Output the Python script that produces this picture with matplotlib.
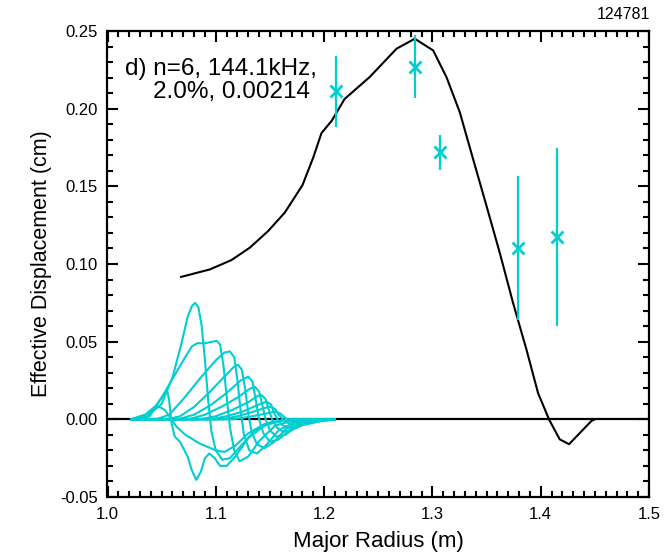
import matplotlib
matplotlib.use("Agg")
import matplotlib.pyplot as plt
from matplotlib.ticker import MultipleLocator

plt.rcParams['font.family'] = ['Liberation Sans', 'DejaVu Sans']

CYAN = '#00CED1'

# Black model curve
model_R = [1.068, 1.0945, 1.1144, 1.1314, 1.1483, 1.1637, 1.180, 1.190, 1.1976, 1.207,
           1.219, 1.242, 1.2669, 1.2837, 1.3007, 1.313, 1.3253, 1.3376, 1.350, 1.3622,
           1.3745, 1.3869, 1.3976, 1.408, 1.4176, 1.4262, 1.4469, 1.450]
model_V = [0.0917, 0.0965, 0.1025, 0.1105, 0.1212, 0.1331, 0.1507, 0.1686, 0.1843, 0.1922,
           0.2063, 0.2203, 0.2386, 0.2450, 0.2375, 0.2203, 0.1977, 0.1675, 0.1373, 0.1072,
           0.0749, 0.0448, 0.0168, -0.0005, -0.0129, -0.0160, -0.0010, 0.0]

# Measured points with error bars
meas_R = [1.2114, 1.2837, 1.3068, 1.3791, 1.4146]
meas_V = [0.2112, 0.2271, 0.1718, 0.1105, 0.1176]
meas_lo = [0.1884, 0.2069, 0.1604, 0.0641, 0.0598]
meas_hi = [0.2339, 0.2472, 0.1830, 0.1567, 0.1746]

# Harmonic curves (R, V)
h0_R = [1.022, 1.035, 1.045, 1.051, 1.055, 1.057, 1.059, 1.062, 1.067, 1.074, 1.078, 1.082,
        1.086, 1.090, 1.094, 1.099, 1.104, 1.110, 1.118, 1.13, 1.145, 1.165, 1.21]
h0_V = [0, 0.003, 0.009, 0.015, 0.019, 0.012, -0.002, -0.011, -0.0145, -0.024, -0.033, -0.039,
        -0.034, -0.025, -0.022, -0.025, -0.030, -0.030, -0.024, -0.012, -0.004, 0, 0]
h1_R = [1.022, 1.035, 1.05, 1.06, 1.068, 1.074, 1.078, 1.081, 1.084, 1.087, 1.090, 1.093,
        1.096, 1.100, 1.106, 1.113, 1.122, 1.135, 1.15, 1.17, 1.21]
h1_V = [0, 0.001, 0.010, 0.027, 0.048, 0.066, 0.073, 0.075, 0.072, 0.060, 0.038, 0.012,
        -0.008, -0.020, -0.026, -0.025, -0.018, -0.008, -0.002, 0, 0]
h2_R = [1.022, 1.039, 1.05, 1.06, 1.07, 1.078, 1.083, 1.09, 1.097, 1.101, 1.104, 1.107,
        1.110, 1.113, 1.117, 1.122, 1.13, 1.14, 1.155, 1.175, 1.21]
h2_V = [0, 0.002, 0.014, 0.026, 0.038, 0.047, 0.049, 0.049, 0.050, 0.0505, 0.048, 0.035,
        0.015, -0.005, -0.020, -0.027, -0.024, -0.014, -0.004, 0, 0]
h3_R = [1.022, 1.045, 1.057, 1.07, 1.085, 1.10, 1.108, 1.113, 1.117, 1.120, 1.123, 1.126,
        1.131, 1.138, 1.146, 1.158, 1.175, 1.21]
h3_V = [0, 0.0, 0.003, 0.013, 0.026, 0.038, 0.043, 0.0437, 0.040, 0.025, 0.005, -0.010,
        -0.020, -0.022, -0.017, -0.007, -0.001, 0]
h4_R = [1.022, 1.055, 1.067, 1.08, 1.095, 1.11, 1.117, 1.1206, 1.124, 1.127, 1.130, 1.133,
        1.138, 1.145, 1.153, 1.165, 1.18, 1.21]
h4_V = [0, 0.0, 0.002, 0.008, 0.018, 0.029, 0.034, 0.0351, 0.032, 0.020, 0.004, -0.008,
        -0.016, -0.0185, -0.015, -0.006, -0.001, 0]
h5_R = [1.022, 1.065, 1.08, 1.095, 1.11, 1.123, 1.130, 1.134, 1.137, 1.140, 1.144, 1.150,
        1.158, 1.168, 1.182, 1.21]
h5_V = [0, 0.0, 0.003, 0.009, 0.017, 0.025, 0.0275, 0.024, 0.012, 0.0, -0.009, -0.0145,
        -0.013, -0.007, -0.0015, 0]
h6_R = [1.022, 1.075, 1.09, 1.105, 1.12, 1.131, 1.136, 1.140, 1.143, 1.146, 1.150, 1.156,
        1.164, 1.174, 1.188, 1.21]
h6_V = [0, 0.0, 0.003, 0.008, 0.014, 0.0195, 0.021, 0.018, 0.009, 0.0, -0.007, -0.0112,
        -0.010, -0.005, -0.001, 0]
h7_R = [1.022, 1.085, 1.10, 1.115, 1.13, 1.138, 1.142, 1.146, 1.149, 1.152, 1.156, 1.162,
        1.170, 1.180, 1.195, 1.21]
h7_V = [0, 0.0, 0.002, 0.006, 0.011, 0.0148, 0.0157, 0.013, 0.006, 0.0, -0.005, -0.008,
        -0.007, -0.0035, -0.0005, 0]
h8_R = [1.022, 1.095, 1.11, 1.125, 1.138, 1.1468, 1.151, 1.154, 1.157, 1.161, 1.167, 1.175,
        1.185, 1.198, 1.21]
h8_V = [0, 0.0, 0.002, 0.005, 0.009, 0.0114, 0.0095, 0.004, 0.0, -0.0035, -0.0055, -0.005,
        -0.0025, -0.0005, 0]
h9_R = [1.022, 1.105, 1.12, 1.135, 1.146, 1.151, 1.155, 1.158, 1.162, 1.167, 1.174, 1.183,
        1.195, 1.21]
h9_V = [0, 0.0, 0.002, 0.005, 0.0075, 0.0081, 0.0065, 0.003, 0.0, -0.0025, -0.0038, -0.0033,
        -0.0015, 0]
h10_R = [1.022, 1.115, 1.13, 1.145, 1.153, 1.156, 1.160, 1.164, 1.168, 1.175, 1.185, 1.197,
         1.21]
h10_V = [0, 0.0, 0.0015, 0.0035, 0.0047, 0.0049, 0.0035, 0.001, -0.001, -0.0022, -0.0022,
         -0.001, 0]
h11_R = [1.022, 1.035, 1.043, 1.048, 1.053, 1.058, 1.064, 1.072, 1.085, 1.100, 1.108, 1.118,
         1.13, 1.145, 1.165, 1.21]
h11_V = [0, 0.003, 0.007, 0.008, 0.006, 0.001, -0.005, -0.010, -0.0155, -0.020, -0.021,
         -0.017, -0.009, -0.003, 0, 0]

harm_R = [h0_R, h1_R, h2_R, h3_R, h4_R, h5_R, h6_R, h7_R, h8_R, h9_R, h10_R, h11_R]
harm_V = [h0_V, h1_V, h2_V, h3_V, h4_V, h5_V, h6_V, h7_V, h8_V, h9_V, h10_V, h11_V]

x_ticks = [1.0, 1.1, 1.2, 1.3, 1.4, 1.5]
y_ticks = [-0.05, 0.0, 0.05, 0.10, 0.15, 0.20, 0.25]
y_ticklabels = ['-0.05', '0.00', '0.05', '0.10', '0.15', '0.20', '0.25']

fig = plt.figure(figsize=(6.64, 5.58), dpi=100)
ax = fig.add_axes([107.5 / 664, 1 - 497 / 558, (649 - 107.5) / 664, (497 - 31) / 558])

ax.axhline(0.0, color='black', lw=1.6, zorder=1)
for r, v in zip(harm_R, harm_V):
    ax.plot(r, v, color=CYAN, lw=1.5, zorder=2, solid_joinstyle='round')
ax.plot(model_R, model_V, color='black', lw=1.5, zorder=3)

yerr = [[v - lo for v, lo in zip(meas_V, meas_lo)], [hi - v for v, hi in zip(meas_V, meas_hi)]]
ax.errorbar(meas_R, meas_V, yerr=yerr, fmt='x', color=CYAN, ms=8, mew=2.0,
            elinewidth=1.6, capsize=0, zorder=4)

ax.set_xlim(1.0, 1.5)
ax.set_ylim(-0.05, 0.25)
ax.set_xticks(x_ticks)
ax.set_xticklabels([f'{t:.1f}' for t in x_ticks])
ax.set_yticks(y_ticks)
ax.set_yticklabels(y_ticklabels)
ax.xaxis.set_minor_locator(MultipleLocator(0.01))
ax.yaxis.set_minor_locator(MultipleLocator(0.01))
ax.tick_params(which='both', direction='in', top=True, right=True, labelsize=12, width=1.5)
ax.tick_params(which='major', length=8, pad=7)
ax.tick_params(which='minor', length=4)
for s in ax.spines.values():
    s.set_linewidth(1.6)

ax.set_xlabel('Major Radius (m)', fontsize=16, labelpad=7)
ax.set_ylabel('Effective Displacement (cm)', fontsize=15.5, labelpad=6)

ax.text(0.032, 0.918, 'd) n=6, 144.1kHz,', transform=ax.transAxes, fontsize=17.5,
        ha='left', va='center')
ax.text(0.084, 0.869, '2.0%, 0.00214', transform=ax.transAxes, fontsize=17.5,
        ha='left', va='center')
ax.text(1.003, 1.02, '124781', transform=ax.transAxes, fontsize=11.5, ha='right', va='bottom')

fig.savefig('out.png', dpi=100)
